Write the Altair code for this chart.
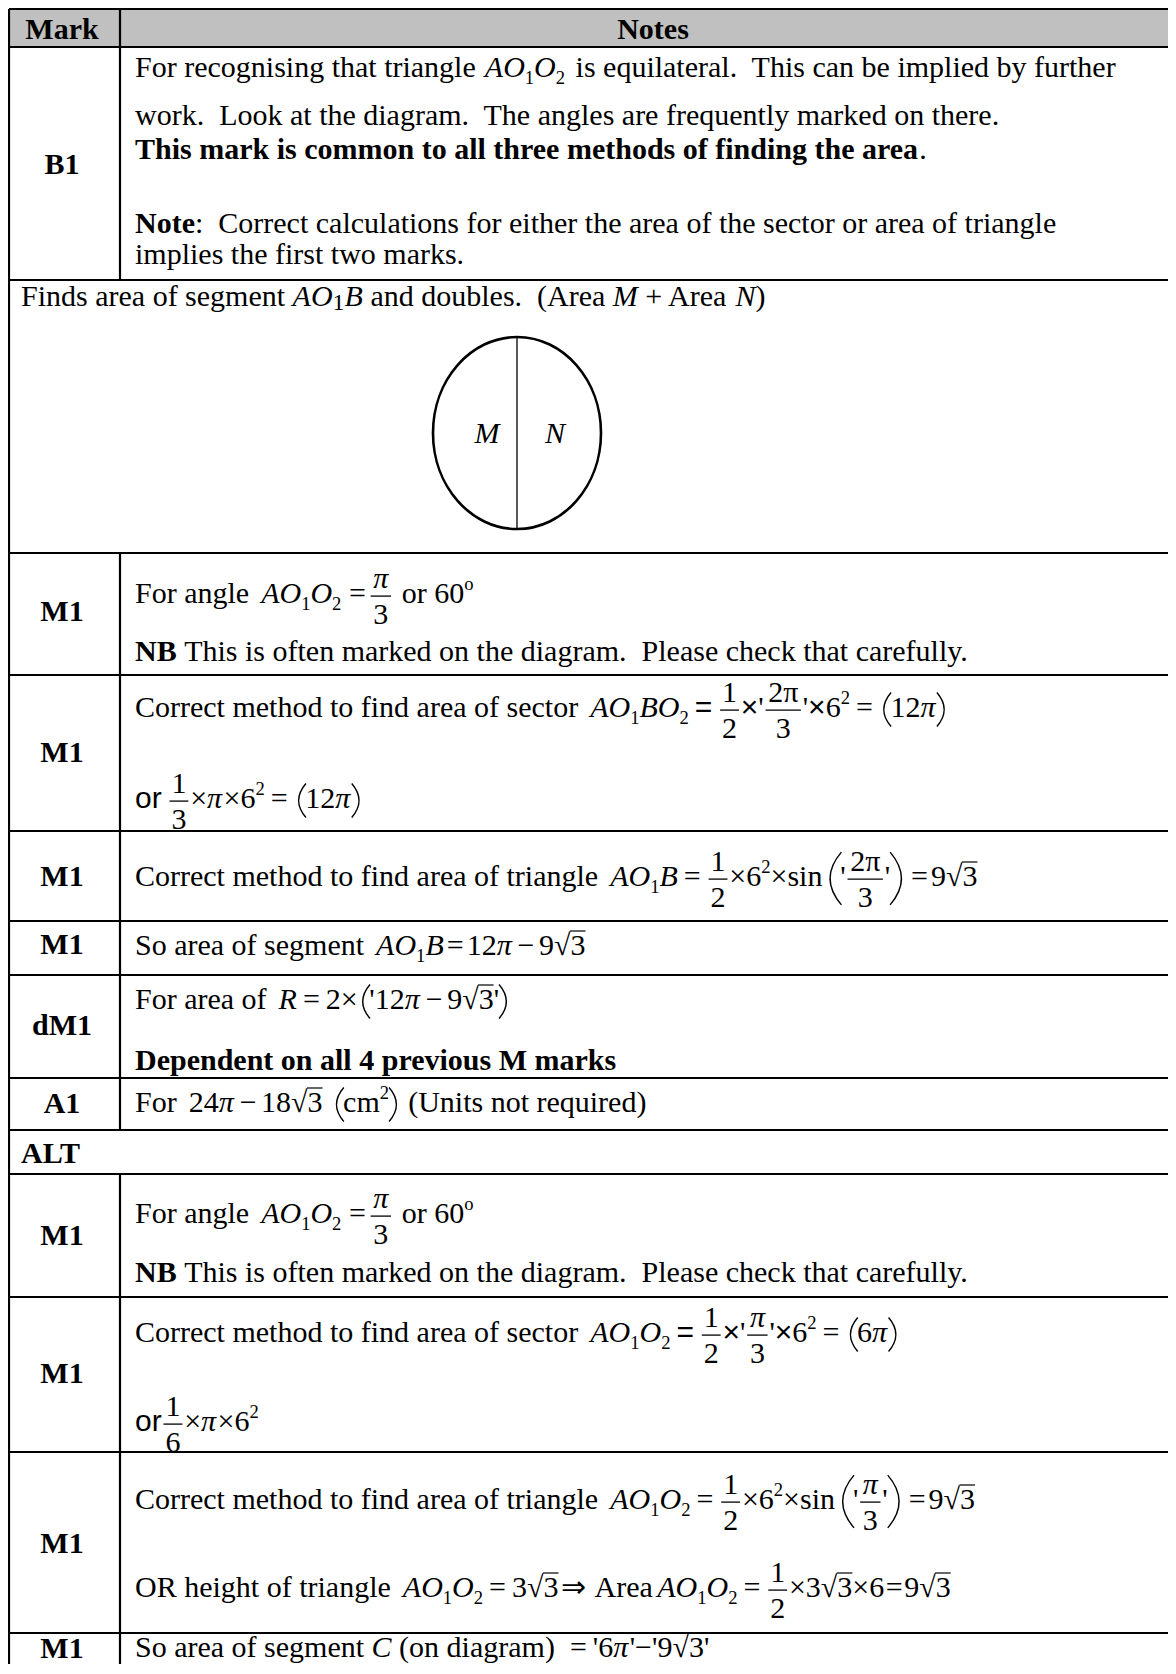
import altair as alt
import pandas as pd

# ---------------- content (text of the table) ----------------
HEADER = ["Mark", "Notes"]
MARK_LABELS = ["B1", "M1", "M1", "M1", "M1", "dM1", "A1", "M1", "M1", "M1", "M1"]
ALT_LABEL = "ALT"
NB = "\u00a0"

AOO = [("i", "AO"), ("sub", "1"), ("i", "O"), ("sub", "2")]

B1_L1 = [("r", "For recognising that triangle"), ("sp", .3)] + AOO + [("sp", .35), ("r", "is equilateral." + NB + " This can be implied by further")]
B1_L2 = [("r", "work." + NB + " Look at the diagram." + NB + " The angles are frequently marked on there.")]
B1_L3 = [("b", "This mark is common to all three methods of finding the area"), ("r", ".")]
B1_L4 = [("b", "Note"), ("r", ":" + NB + " Correct calculations for either the area of the sector or area of triangle")]
B1_L5 = [("r", "implies the first two marks.")]

DIAG_L1 = [("r", "Finds area of segment"), ("sp", .25), ("i", "AO"), ("sub2", "1"), ("i", "B"), ("sp", .25),
           ("r", "and doubles." + NB + " (Area"), ("sp", .25), ("i", "M"), ("sp", .25), ("r", "+ Area"), ("sp", .25),
           ("i", "N"), ("r", ")")]
DIAG_M, DIAG_N = "M", "N"

ANG_L1 = [("r", "For angle"), ("sp", .4)] + AOO + [("sp", .25), ("r", "="), ("sp", .1), ("frac", "π", "3"),
                                               ("sp", .3), ("r", "or 60"), ("sup", "o")]
ANG_L2 = [("b", "NB"), ("sp", .25), ("r", "This is often marked on the diagram." + NB + " Please check that carefully.")]

SEC_L1 = [("r", "Correct method to find area of sector"), ("sp", .4), ("i", "AO"), ("sub", "1"), ("i", "BO"), ("sub", "2"),
          ("sp", .2), ("s", "="), ("sp", .2), ("frac", "1", "2"), ("s", "×"), ("r", "'"), ("frac", "2π", "3"), ("r", "'"),
          ("s", "×"), ("r", "6"), ("sup", "2"), ("sp", .2), ("r", "="), ("sp", .2), ("P", "(", 1), ("r", "12"),
          ("i", "π"), ("P", ")", 1)]
SEC_L2 = [("s", "or"), ("sp", .2), ("frac", "1", "3"), ("r", "×"), ("i", "π"), ("r", "×"), ("r", "6"), ("sup", "2"),
          ("sp", .2), ("r", "="), ("sp", .2), ("P", "(", 1), ("r", "12"), ("i", "π"), ("P", ")", 1)]

TRI_L1 = [("r", "Correct method to find area of triangle"), ("sp", .4), ("i", "AO"), ("sub", "1"), ("i", "B"),
          ("sp", .2), ("r", "="), ("sp", .2), ("frac", "1", "2"), ("r", "×"), ("r", "6"), ("sup", "2"), ("r", "×"),
          ("r", "sin"), ("P", "(", 2), ("r", "'"), ("frac", "2π", "3"), ("r", "'"), ("P", ")", 2), ("sp", .1),
          ("r", "="), ("sp", .1), ("r", "9"), ("sqrt", "3")]

SEG_L1 = [("r", "So area of segment"), ("sp", .4), ("i", "AO"), ("sub", "1"), ("i", "B"), ("sp", .1), ("r", "="),
          ("sp", .1), ("r", "12"), ("i", "π"), ("sp", .15), ("r", "−"), ("sp", .15), ("r", "9"), ("sqrt", "3")]

R_L1 = [("r", "For area of"), ("sp", .4), ("i", "R"), ("sp", .2), ("r", "="), ("sp", .2), ("r", "2×"), ("P", "(", 1),
        ("r", "'12"), ("i", "π"), ("sp", .15), ("r", "−"), ("sp", .15), ("r", "9"), ("sqrt", "3"), ("r", "'"),
        ("P", ")", 1)]
R_L2 = [("b", "Dependent on all 4 previous M marks")]

A1_L1 = [("r", "For"), ("sp", .4), ("r", "24"), ("i", "π"), ("sp", .15), ("r", "−"), ("sp", .15), ("r", "18"),
         ("sqrt", "3"), ("sp", .3), ("P", "(", 1), ("r", "cm"), ("sup", "2"), ("P", ")", 1), ("sp", .25),
         ("r", "(Units not required)")]

SEC2_L1 = [("r", "Correct method to find area of sector"), ("sp", .4)] + AOO + [
    ("sp", .2), ("s", "="), ("sp", .2), ("frac", "1", "2"), ("s", "×"), ("r", "'"), ("frac", "π", "3"), ("r", "'"),
    ("s", "×"), ("r", "6"), ("sup", "2"), ("sp", .2), ("r", "="), ("sp", .2), ("P", "(", 1), ("r", "6"),
    ("i", "π"), ("P", ")", 1)]
SEC2_L2 = [("s", "or"), ("frac", "1", "6"), ("r", "×"), ("i", "π"), ("r", "×"), ("r", "6"), ("sup", "2")]

TRI2_L1 = [("r", "Correct method to find area of triangle"), ("sp", .4)] + AOO + [
    ("sp", .2), ("r", "="), ("sp", .2), ("frac", "1", "2"), ("r", "×"), ("r", "6"), ("sup", "2"), ("r", "×"),
    ("r", "sin"), ("P", "(", 2), ("r", "'"), ("frac", "π", "3"), ("r", "'"), ("P", ")", 2), ("sp", .1), ("r", "="),
    ("sp", .1), ("r", "9"), ("sqrt", "3")]
TRI2_L2 = [("r", "OR height of triangle"), ("sp", .4)] + AOO + [
    ("sp", .2), ("r", "="), ("sp", .2), ("r", "3"), ("sqrt", "3"), ("sp", .1), ("r", "⇒"), ("sp", .1), ("r", "Area"),
    ("sp", .15)] + AOO + [("sp", .2), ("r", "="), ("sp", .2), ("frac", "1", "2"), ("r", "×3"), ("sqrt", "3"),
                           ("r", "×6"), ("sp", .05), ("r", "="), ("sp", .05), ("r", "9"), ("sqrt", "3")]

SEGC_L1 = [("r", "So area of segment"), ("sp", .25), ("i", "C"), ("sp", .25), ("r", "(on diagram)"), ("sp", .5),
           ("r", "="), ("sp", .2), ("r", "'6"), ("i", "π"), ("r", "'"), ("r", "−"), ("r", "'9"), ("sqrt", "3"),
           ("r", "'")]

NOTE_LINES = [B1_L1, B1_L2, B1_L3, B1_L4, B1_L5, DIAG_L1, ANG_L1, ANG_L2, SEC_L1, SEC_L2, TRI_L1, SEG_L1,
              R_L1, R_L2, A1_L1, ANG_L1, ANG_L2, SEC2_L1, SEC2_L2, TRI2_L1, TRI2_L2, SEGC_L1]

# ---------------- layout (page pixels) ----------------
LINE_START = [135, 135, 135, 135, 135, 21, 135, 135, 135, 135, 135, 135,
              135, 135, 135, 135, 135, 135, 135, 135, 135, 135]
LINE_BASE = [77, 125, 159, 233, 264, 306, 603, 661, 717, 808, 886, 955,
             1009, 1070, 1112, 1223, 1282, 1342, 1431, 1509, 1597, 1657]
MARK_BASE = [174, 621, 762, 886, 954, 1035, 1113, 1245, 1383, 1553, 1658]
ROW_LINES = [9, 47, 280, 553, 675, 831, 921, 975, 1078, 1130, 1174, 1297, 1452, 1633]
LEFT, DIVIDER, RIGHT, BOTTOM = 9, 120, 1176, 1674
DIVIDER_SPANS = [(9, 280), (553, 1130), (1174, 1674)]
MARK_X, NOTES_X, HEAD_BASE = 62, 653, 39
ALT_X, ALT_BASE = 21, 1163
ELLIPSE = dict(cx=517, cy=433, w=168, h=192)
MN_BASE, M_X, N_X = 443, 487, 555
PAREN_H = 34  # height of a one-level bracket

FS = 30
SERIF, SANS = "Liberation Serif", "Liberation Sans"
W_PX, H_PX = 1160, 1656   # drawn area (page 8..1168 x 8..1664), kept inside the window

# Times / Liberation Serif advance widths (1/1000 em)
LOW = "abcdefghijklmnopqrstuvwxyz"
UP = "ABCDEFGHIJKLMNOPQRSTUVWXYZ"
REG = dict(zip(LOW, [444, 500, 444, 500, 444, 333, 500, 500, 278, 278, 500, 278, 778, 500, 500, 500, 500, 333, 389,
                     278, 500, 500, 722, 500, 500, 444]))
REG.update(zip(UP, [722, 667, 667, 722, 611, 556, 722, 722, 333, 389, 722, 611, 889, 722, 722, 556, 722, 667, 556,
                    611, 722, 722, 944, 722, 722, 611]))
REG.update({" ": 250, NB: 250, ".": 250, ",": 250, ":": 278, "(": 333, ")": 333, "'": 180, "=": 564, "+": 564,
            "×": 564, "−": 564, "π": 549, "√": 549, "⇒": 1000})
BOLD = dict(zip(LOW, [500, 556, 444, 556, 444, 333, 500, 556, 278, 333, 556, 278, 833, 556, 500, 556, 556, 444, 389,
                      333, 556, 500, 722, 500, 500, 444]))
BOLD.update(zip(UP, [722, 667, 722, 722, 667, 611, 778, 778, 389, 500, 778, 667, 944, 722, 778, 611, 778, 722, 556,
                     667, 722, 722, 1000, 722, 722, 667]))
BOLD.update({" ": 250, NB: 250, ".": 250, ":": 333})
ITAL = {"A": 611, "B": 611, "C": 667, "M": 833, "N": 667, "O": 722, "R": 611, "π": 549}
SANSW = {"o": 556, "r": 333, "=": 584, "×": 584}


def tw(text, kind):
    table = {"b": BOLD, "i": ITAL, "s": SANSW}.get(kind, REG)
    return sum(table.get(c, REG.get(c, 500)) for c in text) / 1000.0


texts, rules, parens = [], [], []


def put(text, x, y, size=FS, kind="r", align="left"):
    font = SANS if kind == "s" else SERIF
    style = "italic" if kind == "i" else "normal"
    weight = "bold" if kind == "b" else "normal"
    texts.append(dict(text=text, x=x, y=y, size=size, font=font, style=style, weight=weight, align=align))


def rule(x1, x2, y1, y2, w):
    rules.append(dict(x=x1, x2=x2, y=y1, y2=y2, sw=w))


def flow(x, base, toks):
    for t in toks:
        k = t[0]
        if k == "sp":
            x += t[1] * FS
        elif k in ("r", "b", "i", "s"):
            put(t[1], x, base, FS, k)
            x += tw(t[1], k) * FS
        elif k in ("sub", "sub2", "sup"):
            size = FS * (0.62 if k != "sub2" else 0.8)
            dy = {"sub": 0.22, "sub2": 0.12, "sup": -0.45}[k] * FS
            put(t[1], x, base + dy, size, "r")
            x += tw(t[1], "r") * size
        elif k == "frac":
            num, den = t[1], t[2]
            w = max(tw(num, "r"), tw(den, "r")) * FS + 0.25 * FS
            bar = base - 0.23 * FS
            rule(x + 0.06 * FS, x + w - 0.06 * FS, bar, bar, 1.3)
            put(num, x + w / 2, bar - 0.28 * FS, FS, "i" if num == "π" else "r", "center")
            put(den, x + w / 2, bar + 0.93 * FS, FS, "r", "center")
            x += w
        elif k == "P":
            h = PAREN_H * (1.0 if t[2] == 1 else 1.55)
            parens.append(dict(x=x + 0.18 * h, y=base - 0.25 * FS, side=t[1], sz=h * h))
            x += 0.34 * h
        elif k == "sqrt":
            put("√", x, base, FS, "r")
            xr = x + 0.55 * FS
            put(t[1], xr, base, FS, "r")
            rw = tw(t[1], "r") * FS
            rule(xr - 0.02 * FS, xr + rw, base - 0.8 * FS, base - 0.8 * FS, 1.2)
            x = xr + rw


# header background
header_bg = pd.DataFrame([dict(x=LEFT, x2=RIGHT, y=ROW_LINES[0], y2=ROW_LINES[1])])

# table lines
for yv in ROW_LINES:
    rule(LEFT, RIGHT, yv, yv, 2.2)
rule(LEFT, LEFT, ROW_LINES[0], BOTTOM, 2.2)
for y1, y2 in DIVIDER_SPANS:
    rule(DIVIDER, DIVIDER, y1, y2, 2.2)

# header and mark column
put(HEADER[0], MARK_X, HEAD_BASE, FS, "b", "center")
put(HEADER[1], NOTES_X, HEAD_BASE, FS, "b", "center")
for lab, b in zip(MARK_LABELS, MARK_BASE):
    put(lab, MARK_X, b, FS, "b", "center")
put(ALT_LABEL, ALT_X, ALT_BASE, FS, "b", "left")

# notes
for toks, x0, b in zip(NOTE_LINES, LINE_START, LINE_BASE):
    flow(x0, b, toks)

# diagram
rule(ELLIPSE["cx"], ELLIPSE["cx"], ELLIPSE["cy"] - ELLIPSE["h"] / 2, ELLIPSE["cy"] + ELLIPSE["h"] / 2, 1.3)
put(DIAG_M, M_X, MN_BASE, FS, "i", "center")
put(DIAG_N, N_X, MN_BASE, FS, "i", "center")

xs = alt.Scale(domain=[8, 8 + W_PX], nice=False, zero=False)
ys = alt.Scale(domain=[8, 8 + H_PX], nice=False, zero=False, reverse=True)
X = lambda f: alt.X(f, type="quantitative", scale=xs, axis=None)
Y = lambda f: alt.Y(f, type="quantitative", scale=ys, axis=None)

layers = []
layers.append(alt.Chart(header_bg).mark_rect(color="#c0c0c0").encode(x=X("x"), x2="x2", y=Y("y"), y2="y2"))

rdf = pd.DataFrame(rules)
layers.append(alt.Chart(rdf).mark_rule(color="black").encode(
    x=X("x"), x2="x2", y=Y("y"), y2="y2", strokeWidth=alt.StrokeWidth("sw:Q", scale=None, legend=None)))

ratio = ELLIPSE["w"] / ELLIPSE["h"]
ell_path = f"M0,-1A{ratio:.4f},1,0,1,1,0,1A{ratio:.4f},1,0,1,1,0,-1Z"
edf = pd.DataFrame([dict(x=ELLIPSE["cx"], y=ELLIPSE["cy"])])
layers.append(alt.Chart(edf).mark_point(shape=ell_path, filled=False, color="black", strokeWidth=2.6, opacity=1).encode(
    x=X("x"), y=Y("y"), size=alt.value(ELLIPSE["h"] ** 2)))

LP = "M0.36,-1Q-0.5,0,0.36,1"
RP = "M-0.36,-1Q0.5,0,-0.36,1"
pdf = pd.DataFrame(parens)
for side, shp in (("(", LP), (")", RP)):
    sub = pdf[pdf["side"] == side].reset_index(drop=True)
    layers.append(alt.Chart(sub).mark_point(shape=shp, filled=False, color="black", strokeWidth=1.4, opacity=1).encode(
        x=X("x"), y=Y("y"), size=alt.Size("sz:Q", scale=None, legend=None)))

tdf = pd.DataFrame(texts)
for (font, style, weight, align), g in tdf.groupby(["font", "style", "weight", "align"]):
    layers.append(alt.Chart(g.reset_index(drop=True)).mark_text(
        font=font, fontStyle=style, fontWeight=weight, align=align, baseline="alphabetic", color="black").encode(
        x=X("x"), y=Y("y"), text="text:N", size=alt.Size("size:Q", scale=None, legend=None)))

chart = alt.layer(*layers).properties(
    width=W_PX, height=H_PX, padding=0, autosize=alt.AutoSizeParams(type="none")
).configure_view(strokeWidth=0)
chart.save("out.html", embed_options={"renderer": "svg", "actions": False})
